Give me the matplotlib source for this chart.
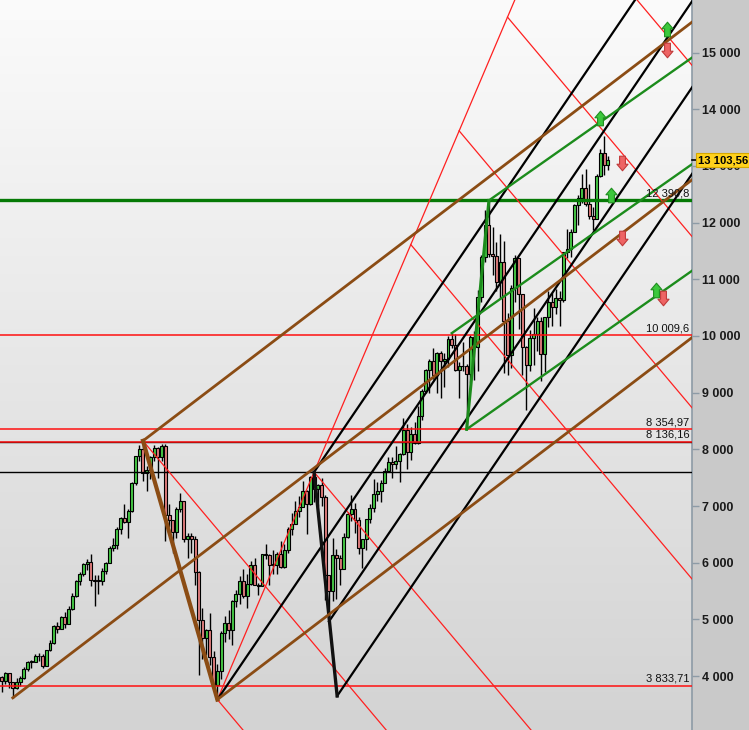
import matplotlib
matplotlib.use("Agg")
import matplotlib.pyplot as plt
import numpy as np
from matplotlib.path import Path
from matplotlib.ticker import FuncFormatter, MultipleLocator
from matplotlib.transforms import blended_transform_factory

plt.rcParams['font.family'] = ['Liberation Sans', 'DejaVu Sans']

### data ###
# monthly candles, month index 0 = Jan 2004, first candle May 2004
first_month = 4
first_open = 3985
close = [3921, 4052, 3895, 3785, 3893, 3960, 4126, 4256,
         4254, 4350, 4349, 4185, 4460, 4586, 4886, 4829, 5044, 4929, 5193, 5408,
         5674, 5797, 5970, 6009, 5692, 5683, 5681, 5859, 6004, 6269, 6309, 6597,
         6789, 6716, 6917, 7409, 7883, 8007, 7584, 7638, 7861, 8019, 7871, 8067,
         6851, 6748, 6535, 6949, 7097, 6418, 6479, 6422, 5831, 4988, 4669, 4810,
         4338, 3843, 4085, 4770, 4941, 4809, 5332, 5458, 5675, 5415, 5625, 5957,
         5608, 5598, 6154, 6136, 5964, 5966, 6148, 5925, 6229, 6601, 6688, 6914,
         6989, 7272, 7041, 7514, 7294, 7376, 7159, 5785, 5502, 6141, 6089, 5898,
         6458, 6856, 6947, 6761, 6264, 6416, 6772, 6970, 7216, 7260, 7405, 7612,
         7776, 7742, 7795, 7914, 8349, 7959, 8276, 8104, 8594, 9033, 9406, 9552,
         9306, 9692, 9556, 9603, 9943, 9833, 9407, 9470, 9474, 9327, 9980, 9806,
         10694, 11402, 11966, 11454, 11413, 10945, 11309, 10259, 9660, 10850, 11382, 10743,
         9798, 9495, 9966, 10039, 10263, 9680, 10337, 10593, 10511, 10665, 10640, 11481,
         11535, 11834, 12313, 12438, 12615, 12325, 12118, 12056, 12829, 13230, 13024, 13103.56]
high = [4010, 4080, 4065, 3900, 3970, 3995, 4170, 4270,
        4290, 4400, 4410, 4400, 4470, 4630, 4900, 4950, 5070, 5140, 5230, 5460,
        5700, 5840, 6000, 6070, 6160, 5780, 5790, 5910, 6020, 6290, 6440, 6630,
        6800, 7040, 6950, 7420, 7890, 8080, 8151, 7700, 7880, 8070, 8050, 8100,
        8100, 7040, 6760, 6990, 7230, 7090, 6520, 6530, 6480, 5850, 5200, 4840,
        5110, 4450, 4220, 4800, 5060, 5160, 5350, 5520, 5760, 5890, 5810, 6030,
        6090, 5650, 6160, 6340, 6160, 6230, 6190, 6390, 6330, 6630, 6880, 7090,
        7180, 7440, 7280, 7530, 7600, 7390, 7500, 7200, 5730, 6430, 6250, 6140,
        6530, 6900, 7190, 7060, 6800, 6420, 6780, 7030, 7480, 7420, 7460, 7680,
        7870, 7870, 8060, 7940, 8560, 8450, 8400, 8480, 8770, 9060, 9420, 9600,
        9790, 9710, 9730, 9700, 10000, 10050, 10030, 9550, 9890, 9500, 10010, 10090,
        10810, 11420, 12220, 12390.8, 11920, 11650, 11800, 11670, 10400, 10900, 11430, 11300,
        10490, 9830, 10100, 10490, 10330, 10330, 10340, 10800, 10750, 10830, 10800, 11490,
        11890, 11890, 12320, 12490, 12850, 12950, 12680, 12270, 12850, 13300, 13526, 13180]
low = [3730, 3870, 3800, 3618, 3780, 3820, 3950, 4100,
       4150, 4250, 4260, 4150, 4180, 4440, 4570, 4760, 4830, 4850, 4920, 5160,
       5390, 5600, 5760, 5880, 5590, 5240, 5450, 5600, 5800, 5990, 6200, 6250,
       6500, 6700, 6430, 6900, 7380, 7790, 7450, 7260, 7480, 7800, 7500, 7800,
       6380, 6630, 6170, 6440, 6900, 6370, 6080, 6170, 5600, 4014, 4300, 4370,
       4200, 3830, 3588, 3950, 4600, 4660, 4550, 5220, 5270, 5380, 5200, 5600,
       5600, 5430, 5600, 6060, 5600, 5800, 5800, 5910, 5900, 6180, 6490, 6680,
       6800, 6990, 6510, 7020, 7070, 7000, 7000, 5350, 4965, 5320, 5370, 5600,
       5900, 6440, 6740, 6520, 6160, 5915, 6220, 6700, 6900, 7090, 7080, 7400,
       7600, 7500, 7650, 7420, 7900, 7650, 7810, 8090, 8100, 8520, 8990, 9000,
       9250, 9000, 8900, 9100, 9450, 9780, 9380, 8900, 9380, 8355, 9170, 9220,
       9380, 10600, 11300, 11400, 11070, 10790, 10650, 9340, 9320, 9430, 10600, 10120,
       9310, 8699, 9380, 9480, 9740, 9214, 9370, 10150, 10180, 10390, 10175, 10600,
       11370, 11400, 11860, 11960, 12350, 12300, 12070, 11870, 12100, 12800, 12840, 12930]
opens = [first_open] + close[:-1]  # monthly open = previous close

# pitchforks (pivot1, pivot2, pivot3) as (month, price)
brown_fork = [(7, 3618), (42, 8151), (62, 3588)]
green_fork = [(125, 10050), (129, 8355), (135, 12390.8)]
# black channel: parallel lines from anchors
black_anchors = [(62, 3588), (88, 7600), (92, 4965), (94.2, 3651)]
black_link = [(88, 7600), (94.2, 3651)]
black_slope = 96.5  # points per month
# red fan from the 2009 low through the 2011 high, with cross lines
fan_origin = (62, 3588)
fan_through = (88, 7600)
fan_levels = [0, 1, 2, 2.5, 3, 3.5]
cross_slope = -78.0
extra_cross = [(42, 8151)]

red_levels = [3833.71, 8136.16, 8354.97, 10009.6]
red_labels = ["3 833,71", "8 136,16", "8 354,97", "10 009,6"]
black_levels = [8125, 7600]
green_level = 12390.8
green_label = "12 390,8"
last_price = 13103.56
last_label = "13 103,56"

up_arrows = [(182.9, 15414), (164.9, 13845), (167.8, 12487), (179.8, 10811)]
down_arrows = [(182.9, 15044), (170.8, 13051), (170.8, 11728), (181.9, 10665)]

X_MIN, X_MAX = 3.56, 189.6
Y_MIN, Y_MAX = 3051, 15926
BROWN = '#8b4c14'
GREEN = '#1c8c1c'

### figure ###
fig = plt.figure(figsize=(7.49, 7.30), dpi=100)
fig.patch.set_facecolor('#c9c9c9')
ax = fig.add_axes([0, 0, 692 / 749, 1])
ax.set_xlim(X_MIN, X_MAX)
ax.set_ylim(Y_MIN, Y_MAX)

grad = np.linspace(0, 1, 256).reshape(-1, 1)
ax.imshow(grad, extent=[0, 1, 0, 1], transform=ax.transAxes, aspect='auto',
          cmap=matplotlib.colors.LinearSegmentedColormap.from_list('bg', ['#fbfbfb', '#d3d3d3']),
          zorder=0, interpolation='bicubic')

# candles
months = np.arange(first_month, first_month + len(close))
o = np.array(opens, dtype=float)
c = np.array(close, dtype=float)
ax.vlines(months, low, high, color='black', lw=1.0, zorder=2)
colors = np.where(c >= o, '#45c945', '#e07c7c')
ax.bar(months, np.maximum(np.abs(c - o), 8), bottom=np.minimum(o, c), width=0.8,
       color=colors, edgecolor='black', linewidth=0.8, zorder=2.1)

# horizontal levels
tr = blended_transform_factory(ax.transAxes, ax.transData)
for v in black_levels:
  ax.axhline(v, color='black', lw=1.0, zorder=3)
for v, lab in zip(red_levels, red_labels):
  ax.axhline(v, color='#ff1010', lw=1.1, zorder=3)
  ax.text(0.996, v + 40, lab, transform=tr, ha='right', va='bottom', fontsize=8, color='#111', zorder=6)
ax.axhline(green_level, color='#067a06', lw=2.4, zorder=3)
ax.text(0.996, green_level + 40, green_label, transform=tr, ha='right', va='bottom', fontsize=8,
        color='#111', zorder=6)

# red fan and cross lines
x_far = X_MAX + 30
fan_slope = (fan_through[1] - fan_origin[1]) / (fan_through[0] - fan_origin[0])
ax.plot([fan_origin[0], x_far], [fan_origin[1], fan_origin[1] + fan_slope * (x_far - fan_origin[0])],
        color='#ff2020', lw=0.9, zorder=3)
starts = [(fan_origin[0] + k * (fan_through[0] - fan_origin[0]),
           fan_origin[1] + k * (fan_through[1] - fan_origin[1])) for k in fan_levels]
for x0, y0 in starts + extra_cross:
  ax.plot([x0, x_far], [y0, y0 + cross_slope * (x_far - x0)], color='#ff2020', lw=0.9, zorder=3)

# black channel
for x0, y0 in black_anchors:
  ax.plot([x0, x_far], [y0, y0 + black_slope * (x_far - x0)], color='black', lw=1.6, zorder=4)
ax.plot(*zip(*black_link), color='#111', lw=2.4, zorder=4)

# pitchforks
def pitchfork(ax, piv, color, lw, lw_link) :
  (x1, y1), (x2, y2), (x3, y3) = piv
  mx, my = (x2 + x3) / 2, (y2 + y3) / 2
  slope = (my - y1) / (mx - x1)
  for x0, y0 in piv :
    ax.plot([x0, x_far], [y0, y0 + slope * (x_far - x0)], color=color, lw=lw, zorder=4)
  ax.plot([x2, x3], [y2, y3], color=color, lw=lw_link, zorder=4)

pitchfork(ax, brown_fork, BROWN, 2.0, 3.0)
pitchfork(ax, green_fork, GREEN, 1.7, 2.2)

# arrows
up = Path([(0, 0.5), (0.38, 0.05), (0.2, 0.05), (0.2, -0.5), (-0.2, -0.5), (-0.2, 0.05),
           (-0.38, 0.05), (0, 0.5)], closed=True)
down = Path([(0, -0.5), (0.38, -0.05), (0.2, -0.05), (0.2, 0.5), (-0.2, 0.5), (-0.2, -0.05),
             (-0.38, -0.05), (0, -0.5)], closed=True)
ax.plot(*zip(*up_arrows), ls='none', marker=up, markersize=10.5, markerfacecolor='#3cc83c',
        markeredgecolor='#1f8f1f', markeredgewidth=0.8, zorder=7)
ax.plot(*zip(*down_arrows), ls='none', marker=down, markersize=10.5, markerfacecolor='#ee6464',
        markeredgecolor='#c03a3a', markeredgewidth=0.8, zorder=7)

# axis on the right
for s in ['top', 'left', 'bottom']:
  ax.spines[s].set_visible(False)
ax.spines['right'].set_color('#8d9ba6')
ax.spines['right'].set_linewidth(1.2)
ax.set_xticks([])
ax.yaxis.tick_right()
ax.yaxis.set_major_locator(MultipleLocator(1000))
ax.yaxis.set_major_formatter(FuncFormatter(lambda v, _: f"{int(v):,}".replace(",", " ")))
ax.tick_params(axis='y', direction='out', length=5, width=1, color='#8d9ba6', pad=2,
               labelsize=9, labelcolor='#1a1a1a')
for lab in ax.get_yticklabels():
  lab.set_fontweight('bold')

# last price marker
ax.plot([1.0, 1.008], [last_price, last_price], transform=tr, color='black', lw=1.2, clip_on=False, zorder=9)
ax.text(1.009, last_price, last_label, transform=tr, ha='left', va='center', fontsize=8.1,
        fontweight='bold', color='black', clip_on=False, zorder=10,
        bbox=dict(boxstyle='square,pad=0.2', facecolor='#ffd21c', edgecolor='#d7a800', lw=0.8))

plt.savefig('out.png', dpi=100)
